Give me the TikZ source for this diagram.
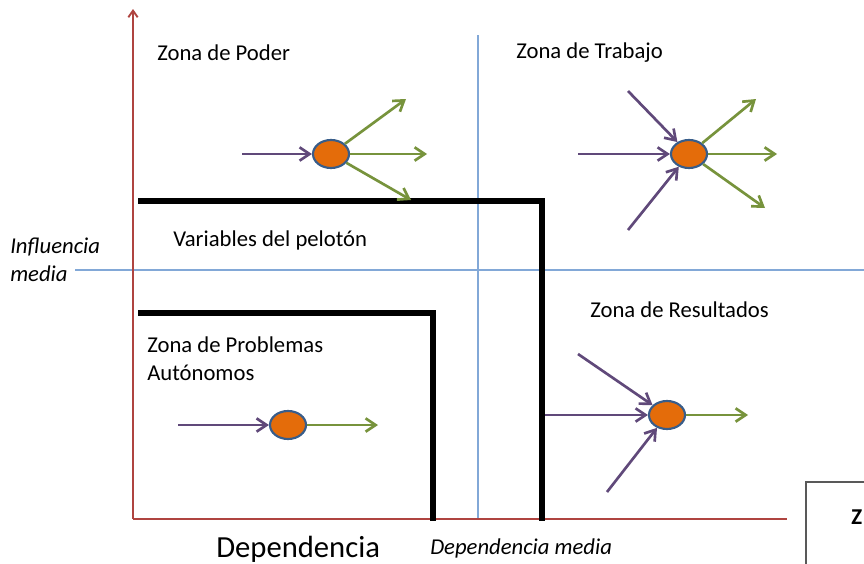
\documentclass[tikz,border=0pt]{standalone}
\usepackage{fontspec}
\setmainfont{Carlito}
\usepackage{xcolor}
\definecolor{axisred}{RGB}{175,68,64}
\definecolor{lineblue}{RGB}{130,168,215}
\definecolor{arrowpurple}{RGB}{96,73,122}
\definecolor{arrowgreen}{RGB}{119,147,60}
\definecolor{nodeorange}{RGB}{228,108,10}
\definecolor{nodeborder}{RGB}{56,93,138}
\usepackage{tikz}
\usetikzlibrary{arrows.meta}
\usetikzlibrary{shapes.geometric}
\newcommand{\sizezone}{\fontsize{17}{21}\selectfont}
\newcommand{\sizetitle}{\fontsize{23}{27}\selectfont}
\tikzset{
    zone/.style={anchor=west, inner sep=0pt, font=\sizezone, align=left},
    media/.style={zone, font=\sizezone\itshape},
    var/.style={ellipse, draw=nodeborder, line width=1.6pt, fill=nodeorange, minimum width=27pt, minimum height=21pt, inner sep=0pt},
    flow/.style={line width=2pt, -{Straight Barb[length=7.5pt,width=10pt,line width=2pt]}},
    input/.style={flow, arrowpurple},
    output/.style={flow, arrowgreen},
    axis/.style={axisred, line width=1.4pt},
    mid/.style={lineblue, line width=0.8pt},
    limit/.style={line width=4.5pt, line join=miter},
}
\begin{document}
\begin{tikzpicture}[x=0.75pt, y=-0.75pt]
  \useasboundingbox (0,0) rectangle (864,564);
  \clip (0,0) rectangle (864,564);

  % medias
  \coordinate (mx0) at (478,35);
  \coordinate (mx1) at (478,519);
  \coordinate (my0) at (75,270);
  \coordinate (my1) at (864,270);
  \draw[mid] (mx0) -- (mx1);
  \draw[mid] (my0) -- (my1);

  % ejes
  \coordinate (origin) at (133,519);
  \coordinate (ytop) at (133,9);
  \coordinate (xend) at (787,519);
  \draw[axis, -{Straight Barb[length=5pt,width=7pt]}] (origin) -- (ytop);
  \draw[axis] (origin) -- (xend);

  % limites
  \draw[limit] (138,201) -| (542,521);
  \draw[limit] (138,313) -| (433,521);

  % textos
  \node[zone] (poder-txt) at (157,53) {Zona de Poder};
  \node[zone] (trabajo-txt) at (516,53) {Zona de Trabajo};
  \node[zone] (peloton-txt) at (173,240) {Variables del pelotón};
  \node[zone] (resultados-txt) at (590,310) {Zona de Resultados};
  \node[zone] (autonomos-txt) at (147,359) {Zona de Problemas\\Autónomos};
  \node[media] (influencia) at (10,260) {Influencia\\media};
  \node[media] (depmedia) at (430,548) {Dependencia media};
  \node[zone, font=\sizetitle] (dependencia) at (216,549) {Dependencia};

  % caja
  \draw[draw=black!65, line width=1.5pt] (806,482) rectangle (890,590);
  \node[zone, font=\sizezone\bfseries] (zona-caja) at (851,517) {Z};

  % variables
  \node[var] (poder) at (331,154) {};
  \node[var] (trabajo) at (689,154) {};
  \node[var] (autonomo) at (288,425) {};
  \node[var] (resultado) at (667,415) {};

  \foreach \n/\x/\y in {p-in/242/154, p-o1/406/99, p-o2/427/154, p-o3/411/200,
      t-in1/628/91, t-in2/578/154, t-in3/628/230, t-o1/756/99, t-o2/777/154, t-o3/765/208,
      a-in/178/425, a-o/378/425,
      r-in1/578/354, r-in2/545/415, r-in3/607/492, r-o/748/415}
    \coordinate (\n) at (\x,\y);

  \draw[input] (p-in) -- (poder);
  \foreach \c in {p-o1,p-o2,p-o3} \draw[output] (poder) -- (\c);
  \foreach \c in {t-in1,t-in2,t-in3} \draw[input] (\c) -- (trabajo);
  \foreach \c in {t-o1,t-o2,t-o3} \draw[output] (trabajo) -- (\c);
  \draw[input] (a-in) -- (autonomo);
  \draw[output] (autonomo) -- (a-o);
  \foreach \c in {r-in1,r-in2,r-in3} \draw[input] (\c) -- (resultado);
  \draw[output] (resultado) -- (r-o);
\end{tikzpicture}
\end{document}
